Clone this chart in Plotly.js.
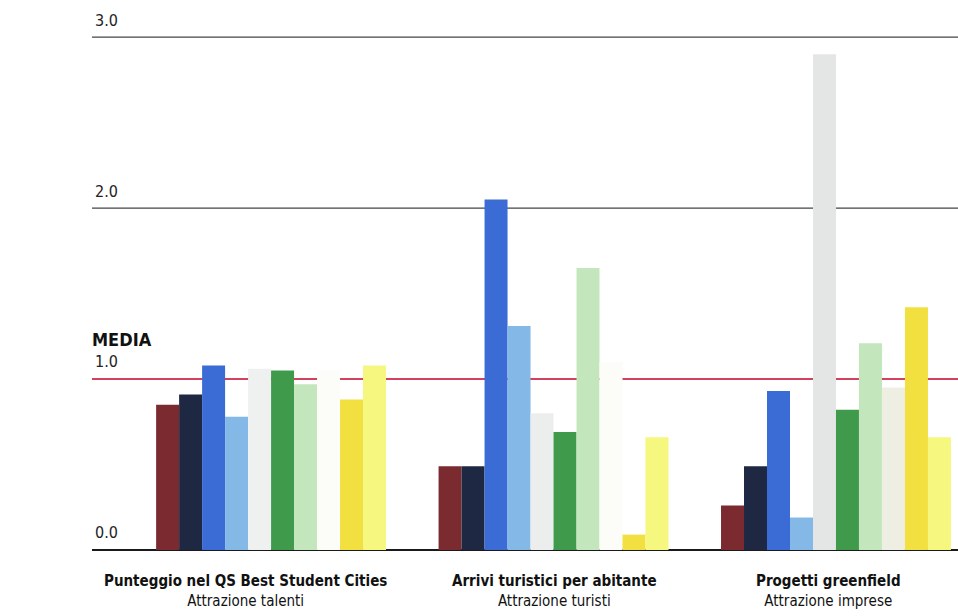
<!DOCTYPE html>
<html>
<head>
<meta charset="utf-8">
<script src="https://cdn.plot.ly/plotly-3.0.1.min.js"></script>
<style>html,body{margin:0;padding:0;background:#fff;}#chart{width:958px;height:616px;}</style>
</head>
<body>
<div id="chart"></div>
<script>
// Indicators (categories)
const categories = ["Punteggio nel QS Best Student Cities", "Arrivi turistici per abitante", "Progetti greenfield"];
const subtitles = ["Attrazione talenti", "Attrazione turisti", "Attrazione imprese"];

// Series values (one per coloured bar, in order of position within each group)
const sDarkRed    = [0.85, 0.49, 0.26];
const sNavy       = [0.91, 0.49, 0.49];
const sBlue       = [1.08, 2.05, 0.93];
const sLightBlue  = [0.78, 1.31, 0.19];
const sLightGrey  = [1.06, 0.80, 2.90];
const sGreen      = [1.05, 0.69, 0.82];
const sPaleGreen  = [0.97, 1.65, 1.21];
const sCream      = [1.05, 1.10, 0.95];
const sGold       = [0.88, 0.09, 1.42];
const sLightYellow= [1.08, 0.66, 0.66];

const yTicks = [0, 1, 2, 3];
const yTickText = ["0.0", "1.0", "2.0", "3.0"];
const mediaValue = 1.0;

const seriesList = [sDarkRed, sNavy, sBlue, sLightBlue, sLightGrey, sGreen, sPaleGreen, sCream, sGold, sLightYellow];
const colors = [
  "#7b2b30", "#1e2843", "#3b6cd6", "#84b8e6",
  ["#eff1f1", "#eceeee", "#e4e6e6"],
  "#3f9a4c", "#c4e6bc",
  ["#fcfcf8", "#fcfcf8", "#efeee2"],
  "#f1e040", "#f6f77e"
];

const xs = categories.map((c, i) => i);
const traces = seriesList.map((vals, k) => ({
  type: "bar",
  x: xs,
  y: vals,
  marker: {color: colors[k], line: {width: 0}},
  hoverinfo: "y",
  showlegend: false
}));

const FONT = "DejaVu Sans Condensed, Liberation Sans Narrow, sans-serif";
const labelOffsets = [-0.092, 0.005, -0.028];
const annotations = categories.map((c, i) => ({
  xref: "x", yref: "paper",
  x: i + labelOffsets[i], y: 0,
  yanchor: "top", xanchor: "center",
  yshift: -20,
  showarrow: false,
  align: "center",
  text: "<b>" + c + "</b><br>" + subtitles[i],
  font: {family: FONT, size: 15, color: "#111"}
}));
annotations.push({
  xref: "paper", yref: "y",
  x: 0, y: mediaValue,
  xanchor: "left", yanchor: "bottom",
  yshift: 27,
  xshift: -2,
  showarrow: false,
  text: "<b>MEDIA</b>",
  font: {family: FONT, size: 18, color: "#111"}
});

// grid lines (except the average line, drawn in red) below the bars
const shapes = yTicks.filter(v => v !== 0 && v !== mediaValue).map(v => ({
  type: "line", xref: "paper", yref: "y",
  x0: 0, x1: 1, y0: v, y1: v,
  line: {color: "#444", width: 1.2},
  layer: "below"
}));
shapes.push({
  type: "line", xref: "paper", yref: "y",
  x0: 0, x1: 1, y0: mediaValue, y1: mediaValue,
  line: {color: "#d2425c", width: 2},
  layer: "below"
});

const layout = {
  width: 958, height: 616,
  margin: {l: 92, r: 0, t: 3, b: 66},
  paper_bgcolor: "#fff",
  plot_bgcolor: "rgba(0,0,0,0)",
  barmode: "group",
  bargap: 0.186,
  bargroupgap: 0,
  xaxis: {
    type: "linear",
    range: [-0.634, 2.432],
    showticklabels: false,
    showgrid: false,
    zeroline: false,
    showline: false,
    ticks: ""
  },
  yaxis: {
    range: [0, 3.2],
    tickvals: yTicks,
    ticktext: yTickText,
    ticklabelposition: "inside top",
    ticklabelshift: -6,
    ticklabelstandoff: 0,
    tickfont: {family: FONT, size: 16, color: "#222"},
    showgrid: false,
    zeroline: true,
    zerolinecolor: "#1a1a1a",
    zerolinewidth: 2.5,
    showline: false,
    ticks: ""
  },
  shapes: shapes,
  annotations: annotations
};

Plotly.newPlot("chart", traces, layout, {displayModeBar: false, staticPlot: true});
</script>
</body>
</html>
